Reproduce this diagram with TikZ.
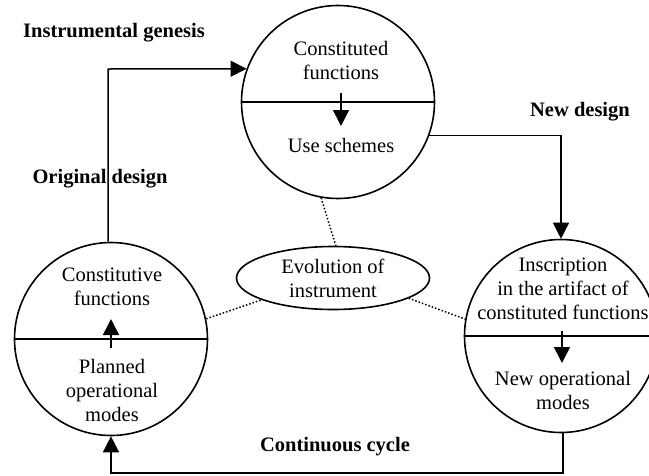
\documentclass[tikz,border=0pt]{standalone}
\usepackage{fontspec}
\setmainfont{Liberation Serif}
\usetikzlibrary{arrows.meta,shapes.geometric}
\begin{document}
\begin{tikzpicture}[x=1pt,y=-1pt,
  bigcirc/.style={draw,circle,line width=1.6pt,minimum size=193pt,inner sep=0pt},
  evo/.style={draw,ellipse,line width=1.6pt,minimum width=193pt,minimum height=63pt,inner sep=0pt},
  txt/.style={align=center,font=\fontsize{20.5}{24}\selectfont,inner sep=0pt},
  lbl/.style={font=\fontsize{20.5}{24}\selectfont\bfseries,inner sep=0pt},
  conn/.style={line width=1.5pt,-{Triangle[length=16pt,width=16pt]}},
  plain/.style={line width=1.5pt},
  dots/.style={dotted,line width=1.5pt}]
\useasboundingbox (0,0) rectangle (649,475);
% circles
\node[bigcirc] (T) at (338,102) {};
\node[bigcirc] (L) at (111,339) {};
\node[bigcirc] (R) at (561,336) {};
\node[evo] (E) at (333,278) {};
% dividers
\draw[plain] (T.west) -- (T.east);
\draw[plain] (L.west) -- (L.east);
\draw[plain] (R.west) -- (R.east);
% texts
\node[txt] (t1) at (341,60) {Constituted\\functions};
\node[txt] (t2) at (341,145) {Use schemes};
\node[txt] (l1) at (112,287) {Constitutive\\functions};
\node[txt] (l2) at (112,390) {Planned\\operational\\modes};
\node[txt] (r1) at (563,289) {Inscription\\in the artifact of\\constituted functions};
\node[txt] (r2) at (563,390) {New operational\\modes};
\node[txt] (e1) at (333,278) {Evolution of\\instrument};
% labels
\node[lbl] (g) at (114,33) {Instrumental genesis};
\node[lbl] (o) at (100,179) {Original design};
\node[lbl] (n) at (580,112) {New design};
\node[lbl] (c) at (335,447) {Continuous cycle};
% inner arrows
\coordinate (ta) at (341,93);  \coordinate (tb) at (341,126);
\coordinate (la) at (111,348); \coordinate (lb) at (111,319);
\coordinate (ra) at (562,331); \coordinate (rb) at (562,363);
\draw[conn] (ta) -- (tb);
\draw[conn] (la) -- (lb);
\draw[conn] (ra) -- (rb);
% connectors
\coordinate (bend1) at (108,69);
\draw[conn] (L.north -| bend1) -- (bend1) -- (T.160);
\draw[conn] (T.-20) -| (R.north);
\coordinate (low) at (563,473);
\draw[conn] (R.south -| low) -- (low) -| (L.south);
% dotted links
\draw[dots] (T.260) -- (E.85);
\draw[dots] (L.12) -- (E.197);
\draw[dots] (E.-15) -- (R.170);
\end{tikzpicture}
\end{document}
